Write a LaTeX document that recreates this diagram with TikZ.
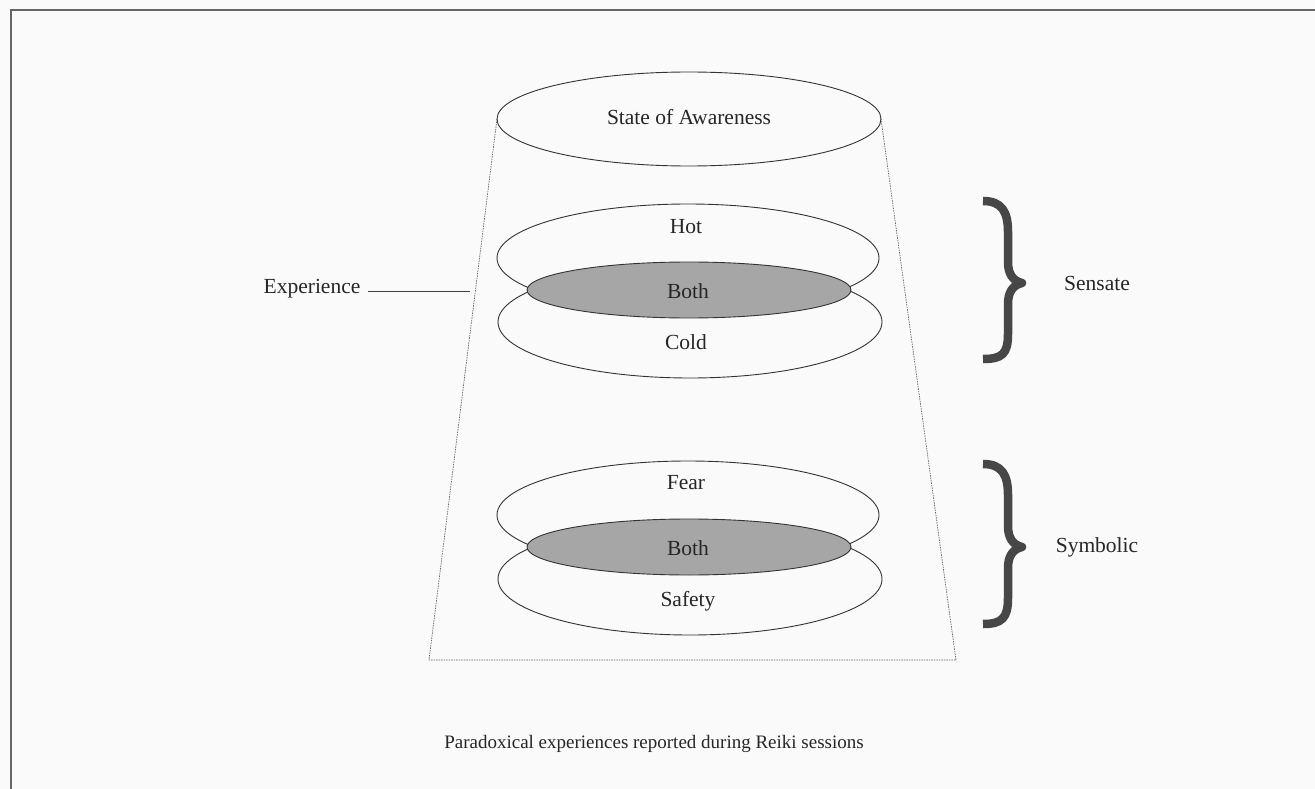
\documentclass[tikz,border=0pt]{standalone}
\usepackage{fontspec}
\setmainfont{Liberation Serif}
\begin{document}
\begin{tikzpicture}[x=1pt,y=-1pt,
  lab/.style={font=\fontsize{21.5}{24}\selectfont, text=black!85, inner sep=1pt},
  caplab/.style={font=\fontsize{19}{22}\selectfont, text=black!85, inner sep=1pt},
  ell/.style={draw=black!80, line width=0.9pt},
  both/.style={draw=black!80, line width=0.9pt, fill=black!35},
  cone/.style={draw=black!60, line width=0.7pt, dash pattern=on 1.5pt off 1pt},
  bracestyle/.style={draw=black!72, line width=8.5pt, line join=round, line cap=butt},
  frame/.style={draw=black!60, line width=1.6pt}]
\useasboundingbox (0,0) rectangle (1315,789);
\fill[black!2] (0,0) rectangle (1315,789);
\draw[frame] (11,789) -- (11,10) -- (1315,10);
% cone
\coordinate (tl) at (497,119);
\coordinate (tr) at (881,119);
\coordinate (bl) at (429,660);
\coordinate (br) at (956,660);
\draw[cone] (tl) -- (bl) -- (br) -- (tr);
% top ellipse
\draw[ell] (689,119) ellipse [x radius=192, y radius=47];
\node[lab] (soa) at (689,117) {State of Awareness};
% sensate group
\draw[ell] (688,258) ellipse [x radius=191, y radius=54];
\draw[ell] (690,322) ellipse [x radius=192, y radius=56];
\draw[both] (689,290) ellipse [x radius=162, y radius=28];
\node[lab] (hot) at (686,227) {Hot};
\node[lab] (both1) at (688,291) {Both};
\node[lab] (cold) at (686,342) {Cold};
% symbolic group
\draw[ell] (688,515) ellipse [x radius=191, y radius=54];
\draw[ell] (690,579) ellipse [x radius=192, y radius=56];
\draw[both] (689,547) ellipse [x radius=162, y radius=28];
\node[lab] (fear) at (686,483) {Fear};
\node[lab] (both2) at (688,548) {Both};
\node[lab] (safety) at (688,601) {Safety};
% experience
\node[lab] (exp) at (312,289) {Experience};
\coordinate (expend) at (470,291);
\draw[black!75, line width=0.8pt] (exp.east |- expend) ++(6,0) -- (expend);
% braces
\draw[bracestyle] (983,201) .. controls (1002,201) and (1008,212) .. (1008,232) -- (1008,262) .. controls (1008,274) and (1013,281) .. (1022,283) .. controls (1013,285) and (1008,292) .. (1008,304) -- (1008,334) .. controls (1008,354) and (1002,359) .. (983,359);
\draw[bracestyle] (983,464) .. controls (1002,464) and (1008,475) .. (1008,495) -- (1008,526) .. controls (1008,538) and (1013,545) .. (1022,547) .. controls (1013,549) and (1008,556) .. (1008,568) -- (1008,598) .. controls (1008,618) and (1002,624) .. (983,624);
\node[lab] (sens) at (1097,283) {Sensate};
\node[lab] (symb) at (1097,547) {Symbolic};
% caption
\node[caplab] (cap) at (654,744) {Paradoxical experiences reported during Reiki sessions};
\end{tikzpicture}
\end{document}
